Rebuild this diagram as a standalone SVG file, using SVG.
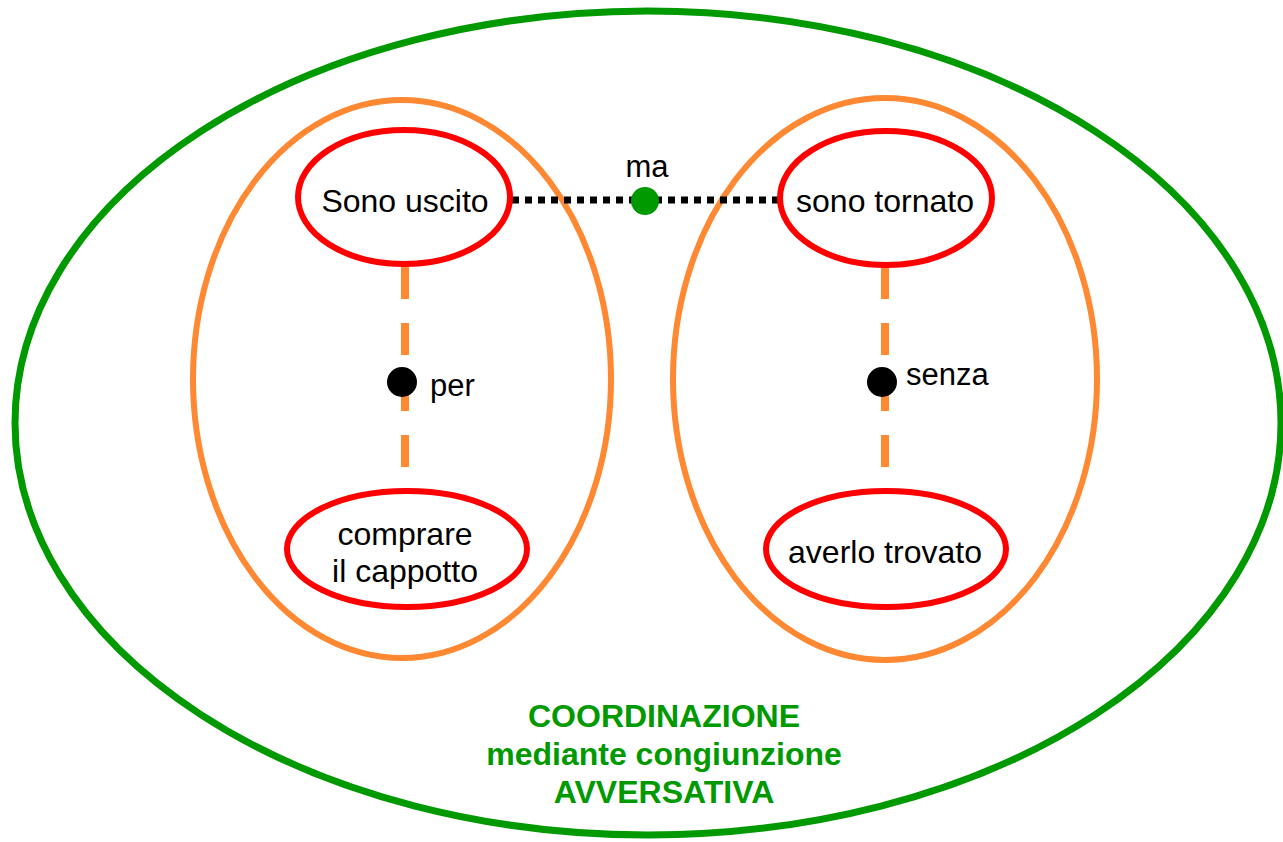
<svg xmlns="http://www.w3.org/2000/svg" width="1283" height="842" viewBox="0 0 1283 842">
<style>
.bg{fill:#ffffff}
.outer{fill:none;stroke:#009900;stroke-width:7}
.group{fill:none;stroke:#ff8833;stroke-width:6}
.node{fill:#ffffff;stroke:#ff0000;stroke-width:6}
.t{font-family:"Liberation Sans",Arial,sans-serif;font-size:32px;fill:#000000;text-anchor:middle}
.lbl{font-family:"Liberation Sans",Arial,sans-serif;font-size:31px;fill:#000000}
.title{font-family:"Liberation Sans",Arial,sans-serif;font-size:32px;font-weight:bold;fill:#009900;text-anchor:middle}
.dotted{stroke:#000000;stroke-width:7;stroke-dasharray:7 6;fill:none}
.dashed{stroke:#ff8833;stroke-width:8;stroke-dasharray:32 24;fill:none}
</style>
<rect class="bg" x="0" y="0" width="1283" height="842"/>
<g id="coordinazione">
<ellipse class="outer" cx="648" cy="423" rx="633" ry="412"/>
<text class="title" x="664" y="727">COORDINAZIONE</text>
<text class="title" x="664" y="765">mediante congiunzione</text>
<text class="title" x="664" y="803">AVVERSATIVA</text>
</g>
<g id="group-left">
<ellipse class="group" cx="402" cy="379" rx="209" ry="279"/>
</g>
<g id="group-right">
<ellipse class="group" cx="885" cy="379" rx="212" ry="281"/>
</g>
<g id="connectors">
<line class="dotted" x1="512" y1="200" x2="779" y2="200"/>
<line class="dashed" x1="405" y1="267" x2="405" y2="468"/>
<line class="dashed" x1="885" y1="267" x2="885" y2="468"/>
<circle cx="645" cy="201" r="14" fill="#009900"/>
<text class="lbl" x="647" y="177" text-anchor="middle">ma</text>
<circle cx="402" cy="382" r="15" fill="#000000"/>
<text class="lbl" x="430" y="396">per</text>
<circle cx="882" cy="382" r="15" fill="#000000"/>
<text class="lbl" x="906" y="385">senza</text>
</g>
<g id="sono-uscito">
<ellipse class="node" cx="404" cy="197" rx="106" ry="67"/>
<text class="t" x="405" y="212">Sono uscito</text>
</g>
<g id="sono-tornato">
<ellipse class="node" cx="886" cy="198" rx="106" ry="67"/>
<text class="t" x="885" y="212">sono tornato</text>
</g>
<g id="comprare">
<ellipse class="node" cx="407" cy="549" rx="120" ry="58"/>
<text class="t" x="405" y="545">comprare</text>
<text class="t" x="405" y="582">il cappotto</text>
</g>
<g id="averlo-trovato">
<ellipse class="node" cx="886" cy="549" rx="120" ry="58"/>
<text class="t" x="885" y="563">averlo trovato</text>
</g>
</svg>
